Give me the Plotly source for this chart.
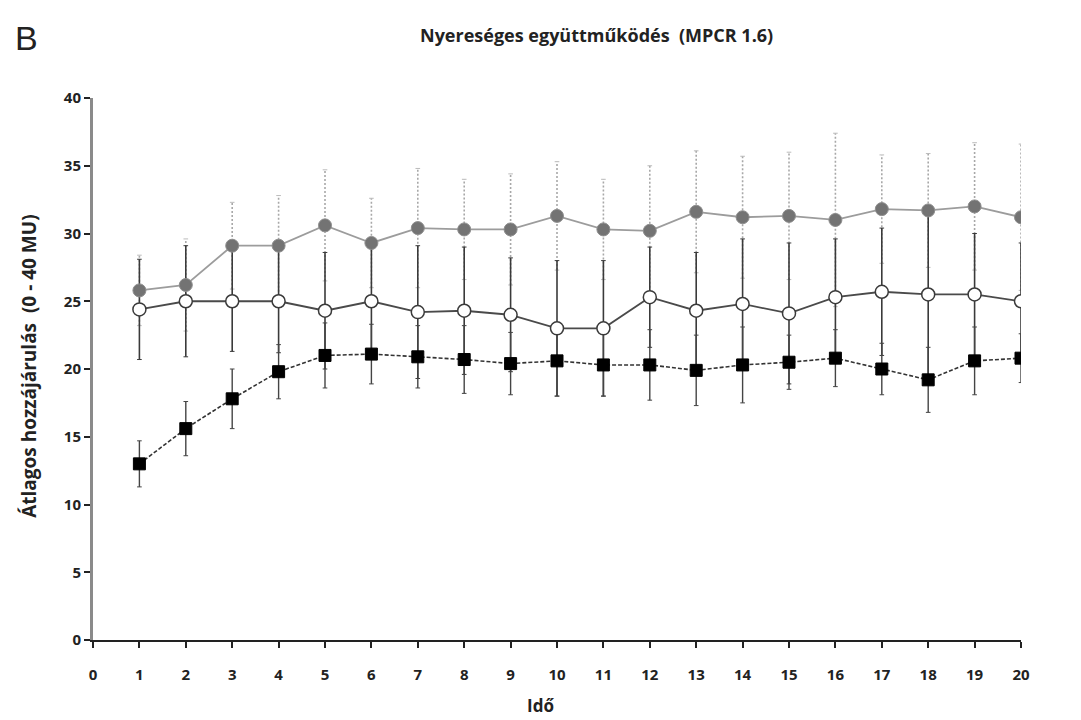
import plotly.graph_objects as go

ido = list(range(1, 21))

# grey filled circles
grey_mean = [25.8, 26.2, 29.1, 29.1, 30.6, 29.3, 30.4, 30.3, 30.3, 31.3, 30.3, 30.2, 31.6, 31.2, 31.3, 31.0, 31.8, 31.7, 32.0, 31.2]
grey_err = [2.6, 3.4, 3.2, 3.7, 4.1, 3.3, 4.4, 3.7, 4.1, 4.0, 3.7, 4.8, 4.5, 4.5, 4.7, 6.4, 4.0, 4.2, 4.7, 5.4]

# white open circles
white_mean = [24.4, 25.0, 25.0, 25.0, 24.3, 25.0, 24.2, 24.3, 24.0, 23.0, 23.0, 25.3, 24.3, 24.8, 24.1, 25.3, 25.7, 25.5, 25.5, 25.0]
white_err = [3.7, 4.1, 3.7, 3.8, 4.3, 3.9, 4.9, 4.7, 4.2, 5.0, 5.0, 3.7, 4.3, 4.8, 5.2, 4.3, 4.7, 6.0, 4.5, 4.3]

# black squares
black_mean = [13.0, 15.6, 17.8, 19.8, 21.0, 21.1, 20.9, 20.7, 20.4, 20.6, 20.3, 20.3, 19.9, 20.3, 20.5, 20.8, 20.0, 19.2, 20.6, 20.8]
black_err = [1.7, 2.0, 2.2, 2.0, 2.4, 2.2, 2.3, 2.5, 2.3, 2.6, 2.3, 2.6, 2.6, 2.8, 2.0, 2.1, 1.9, 2.4, 2.5, 1.8]

x_ticks = list(range(0, 21))
y_ticks = list(range(0, 41, 5))

title_text = "Nyereséges együttműködés  (MPCR 1.6)"
panel_label = "B"
y_title = "Átlagos hozzájárulás  (0 - 40 MU)"
x_title = "Idő"

FONT = "Open Sans, Arial, sans-serif"
TXT = "#222222"


def err_segments(xs, means, errs):
    sx, sy = [], []
    for x, m, e in zip(xs, means, errs):
        sx += [x, x, None]
        sy += [m - e, m + e, None]
    return sx, sy


def cap_segments(xs, means, errs, w=0.05):
    sx, sy = [], []
    for x, m, e in zip(xs, means, errs):
        for v in (m - e, m + e):
            sx += [x - w, x + w, None]
            sy += [v, v, None]
    return sx, sy


fig = go.Figure()

# grey dotted error bars
gx, gy = err_segments(ido, grey_mean, grey_err)
fig.add_trace(go.Scatter(x=gx, y=gy, mode="lines",
                         line=dict(color="#a8a8a8", width=1.6, dash="2px,2px"),
                         hoverinfo="skip", showlegend=False))
cx, cy = cap_segments(ido, grey_mean, grey_err)
fig.add_trace(go.Scatter(x=cx, y=cy, mode="lines",
                         line=dict(color="#bbbbbb", width=1),
                         hoverinfo="skip", showlegend=False))

# white series solid error bars
wx, wy = err_segments(ido, white_mean, white_err)
fig.add_trace(go.Scatter(x=wx, y=wy, mode="lines",
                         line=dict(color="#3a3a3a", width=1.6),
                         hoverinfo="skip", showlegend=False))
cx, cy = cap_segments(ido, white_mean, white_err)
fig.add_trace(go.Scatter(x=cx, y=cy, mode="lines",
                         line=dict(color="#3a3a3a", width=1),
                         hoverinfo="skip", showlegend=False))

# black series error bars
bx, by = err_segments(ido, black_mean, black_err)
fig.add_trace(go.Scatter(x=bx, y=by, mode="lines",
                         line=dict(color="#444444", width=1.4),
                         hoverinfo="skip", showlegend=False))
cx, cy = cap_segments(ido, black_mean, black_err)
fig.add_trace(go.Scatter(x=cx, y=cy, mode="lines",
                         line=dict(color="#444444", width=1),
                         hoverinfo="skip", showlegend=False))

# series lines + markers
fig.add_trace(go.Scatter(x=ido, y=grey_mean, mode="lines+markers",
                         line=dict(color="#9c9c9c", width=1.8),
                         marker=dict(symbol="circle", size=13, color="#737373",
                                     line=dict(color="#8e8e8e", width=1)),
                         showlegend=False))
fig.add_trace(go.Scatter(x=ido, y=white_mean, mode="lines+markers",
                         line=dict(color="#4a4a4a", width=1.8),
                         marker=dict(symbol="circle", size=13, color="white",
                                     line=dict(color="#3a3a3a", width=1.5)),
                         showlegend=False))
fig.add_trace(go.Scatter(x=ido, y=black_mean, mode="lines+markers",
                         line=dict(color="#333333", width=1.6, dash="4px,2px"),
                         marker=dict(symbol="square", size=12, color="black",
                                     line=dict(color="black", width=1)),
                         showlegend=False))

fig.update_layout(
    width=1081, height=720,
    margin=dict(l=85, r=68, t=90, b=88),
    plot_bgcolor="white", paper_bgcolor="white",
    font=dict(family=FONT, color=TXT),
    xaxis=dict(range=[0, 20], tickvals=x_ticks, ticktext=["<b>%d</b>" % v for v in x_ticks],
               showgrid=False, zeroline=False, showline=True, linecolor=TXT,
               linewidth=2, ticks="outside", ticklen=6, tickcolor=TXT,
               tickwidth=1.5, ticklabelstandoff=14,
               tickfont=dict(size=15, family=FONT, color=TXT)),
    yaxis=dict(range=[0, 40], tickvals=y_ticks, ticktext=["<b>%d</b>" % v for v in y_ticks],
               showgrid=False, zeroline=False, showline=True, linecolor="#8a8a8a",
               linewidth=3, ticks="outside", ticklen=6, tickcolor=TXT,
               tickwidth=1.5, tickfont=dict(size=15, family=FONT, color=TXT)),
)

fig.add_annotation(text="<b>" + title_text + "</b>", xref="paper", yref="paper",
                   x=0.543, y=1.0, yshift=63, showarrow=False,
                   font=dict(size=18, family=FONT, color=TXT), xanchor="center", yanchor="middle")
fig.add_annotation(text=panel_label, xref="paper", yref="paper",
                   x=0, y=1.0, xshift=-80, yshift=60, showarrow=False, xanchor="left", yanchor="middle",
                   font=dict(size=34, family="Liberation Sans, Arial", color=TXT))
fig.add_annotation(text="<b>" + y_title + "</b>", xref="paper", yref="paper",
                   x=0, y=0.504, xshift=-64, showarrow=False, textangle=-90,
                   xanchor="center", yanchor="middle",
                   font=dict(size=19, family=FONT, color=TXT))
fig.add_annotation(text="<b>" + x_title + "</b>", xref="paper", yref="paper",
                   x=0.482, y=0, yshift=-65, showarrow=False,
                   xanchor="center", yanchor="middle",
                   font=dict(size=17, family=FONT, color=TXT))

fig.write_html("out.html")
